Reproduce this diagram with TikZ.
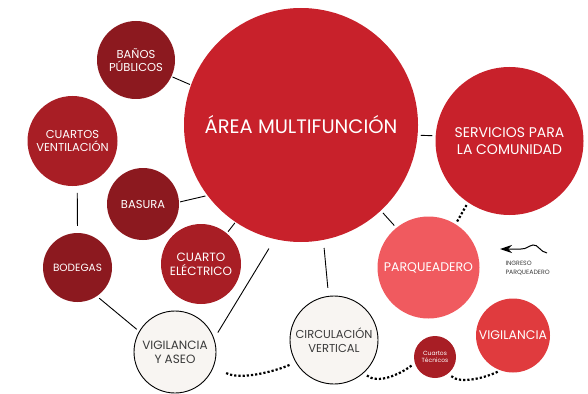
\documentclass[tikz,border=0pt]{standalone}
\usepackage{fontspec}
\setmainfont{Poppins}
\usepackage{tikz}
\usetikzlibrary{arrows.meta, positioning}
\definecolor{rojo}{HTML}{C8212B}
\definecolor{vino}{HTML}{8C191F}
\definecolor{granate}{HTML}{A81E25}
\definecolor{rosado}{HTML}{F05A5F}
\definecolor{carmin}{HTML}{E03B3E}
\definecolor{crema}{HTML}{F8F5F2}
\definecolor{tinta}{HTML}{3A3A3A}

\begin{document}
\begin{tikzpicture}[x=1pt, y=-1pt,
    zona/.style={circle, inner sep=0pt, align=center, text=white, font=\fontsize{11.5}{13.5}\selectfont},
    blanca/.style={zona, fill=crema, draw=black, line width=0.9pt, text=tinta},
    enlace/.style={line width=0.9pt, shorten <=3pt, shorten >=3pt},
    puntos/.style={line width=2.2pt, dash pattern=on 2.2pt off 2pt}]
    \useasboundingbox (0,0) rectangle (588,393);
    % Circles
    \node[zona, fill=rojo, minimum size=234pt, font=\fontsize{19.5}{22}\selectfont] (area) at (301,125) {ÁREA MULTIFUNCIÓN};
    \node[zona, fill=rojo, minimum size=148pt, font=\fontsize{14}{17}\selectfont] (serv) at (509.5,141) {SERVICIOS PARA\\LA COMUNIDAD};
    \node[zona, fill=vino, minimum size=78pt] (banos) at (136,60) {BAÑOS\\PÚBLICOS};
    \node[zona, fill=granate, minimum size=90pt] (cvent) at (72.5,141) {CUARTOS\\VENTILACIÓN};
    \node[zona, fill=vino, minimum size=72pt] (basura) at (143,204) {BASURA};
    \node[zona, fill=vino, minimum size=69pt, font=\fontsize{10.5}{12}\selectfont] (bodegas) at (77.5,267.5) {BODEGAS};
    \node[zona, fill=granate, minimum size=80pt, font=\fontsize{12}{14}\selectfont] (celec) at (201,264) {CUARTO\\ELÉCTRICO};
    \node[blanca, minimum size=82pt, font=\fontsize{12}{14}\selectfont] (vya) at (175,352) {VIGILANCIA\\Y ASEO};
    \node[blanca, minimum size=88pt] (circ) at (334,340) {CIRCULACIÓN\\VERTICAL};
    \node[zona, fill=rosado, minimum size=102pt, font=\fontsize{12.5}{14}\selectfont] (parq) at (428.5,267.5) {PARQUEADERO};
    \node[zona, fill=granate, minimum size=42pt, font=\fontsize{6}{7.5}\selectfont] (ctec) at (435,357) {Cuartos\\Técnicos};
    \node[zona, fill=carmin, minimum size=74pt, font=\fontsize{12.5}{14}\selectfont] (vig) at (513,335.5) {VIGILANCIA};
    % Links
    \draw[enlace, shorten <=1pt, shorten >=1pt] (banos.-25) -- (area.160);
    \draw[enlace] (area.-5) -- (serv.176);
    \draw[enlace, shorten <=7pt, shorten >=7pt] (cvent.-84) -- (bodegas.north);
    \draw[enlace, shorten <=1pt, shorten >=2pt] (basura.3) -- (area.217);
    \draw[enlace, shorten <=2pt, shorten >=1pt] (celec.50) -- (area.236);
    \draw[enlace] (bodegas.-56) -- (vya.150);
    \draw[enlace, shorten <=7pt, shorten >=11pt] (vya.19) -- (area.257);
    \draw[enlace, shorten <=8pt, shorten >=8pt] (area.281) -- (circ.97);
    \draw[enlace] (area.-47) -- (parq.129);
    % Dotted links
    \draw[puntos, shorten <=3pt, shorten >=3pt] (parq.58) -- (serv.236);
    \draw[puntos, shorten <=14pt, shorten >=5pt] (vya.-20) .. controls +(25,14) and +(-22,10) .. (circ.210);
    \draw[puntos, shorten <=4pt, shorten >=3pt] (circ.-48) .. controls +(14,11) and +(-16,12) .. (ctec.197);
    \draw[puntos, shorten <=4pt, shorten >=2pt] (ctec.-51) .. controls +(12,11) and +(-14,7) .. (vig.250);
    % Entrance arrow
    \coordinate (ingA) at (547,253);
    \coordinate (ingB) at (500,249);
    \draw[line width=1pt, -{Stealth[length=12pt, width=8pt]}] (ingA) .. controls (540,252) and (538,244) .. (533,245)
        .. controls (528,246) and (527,249) .. (521,249) -- (ingB);
    \node[below right=9pt and 2pt of ingB, anchor=north west, align=left, text=tinta, font=\fontsize{6.2}{8.5}\selectfont] (ingreso) {INGRESO\\PARQUEADERO};
\end{tikzpicture}
\end{document}
